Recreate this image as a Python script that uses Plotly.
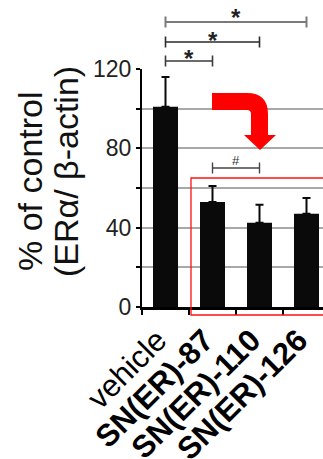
import plotly.graph_objects as go

# ---- data ----
categories = ["vehicle", "SN(ER)-87", "SN(ER)-110", "SN(ER)-126"]
tick_labels = ["vehicle", "<b>SN(ER)-87</b>", "<b>SN(ER)-110</b>", "<b>SN(ER)-126</b>"]
values = [101, 53, 42.5, 47]
errors = [15, 8, 9, 8]
y_tickvals = [0, 20, 40, 60, 80, 100, 120]
y_ticktext = ["0", "", "40", "", "80", "", "120"]
sig_pairs = [("vehicle", "SN(ER)-126", "*"), ("vehicle", "SN(ER)-110", "*"),
             ("vehicle", "SN(ER)-87", "*"), ("SN(ER)-87", "SN(ER)-110", "#")]

# ---- layout geometry (pixels) ----
W, H = 323, 459
ML, MR, MT, MB = 142, 0, 69, 152
PW, PH = W - ML - MR, H - MT - MB
CAT_PX = 47.0
FONT = "Liberation Sans, Arial, sans-serif"


def px2paper_x(px):
    return (px - ML) / PW


def py2paper_y(py):
    return (H - MB - py) / PH


fig = go.Figure()
fig.add_trace(go.Bar(
    x=categories, y=values,
    marker=dict(color="#0a0a0a", line=dict(width=0)),
    error_y=dict(type="data", array=errors, arrayminus=[0] * len(errors),
                 symmetric=False, color="#0a0a0a", thickness=2, width=4),
    showlegend=False,
))

shapes = []
annotations = []

# significance brackets
bracket_style = {
    ("vehicle", "SN(ER)-126"): (22, "#7a7a7a", 2.0, 11),
    ("vehicle", "SN(ER)-110"): (42, "#2a2a2a", 1.6, 34),
    ("vehicle", "SN(ER)-87"): (61, "#3a3a3a", 1.6, 53),
    ("SN(ER)-87", "SN(ER)-110"): (168, "#444444", 1.4, 160),
}
for a, b, sym in sig_pairs:
    ypx, col, lw, spx = bracket_style[(a, b)]
    i, j = categories.index(a), categories.index(b)
    y = py2paper_y(ypx)
    dy = 5.5 / PH
    shapes.append(dict(type="line", xref="x", yref="paper", x0=i, x1=j, y0=y, y1=y,
                       line=dict(color=col, width=lw)))
    for k in (i, j):
        shapes.append(dict(type="line", xref="x", yref="paper", x0=k, x1=k,
                           y0=y - dy, y1=y + dy, line=dict(color=col, width=lw)))
    if sym == "*":
        annotations.append(dict(xref="x", yref="paper", x=(i + j) / 2, y=py2paper_y(spx + 6),
                                text="<b>*</b>", showarrow=False, xanchor="center", yanchor="middle",
                                font=dict(family=FONT, size=24, color="#222")))
    else:
        annotations.append(dict(xref="x", yref="paper", x=(i + j) / 2, y=py2paper_y(spx),
                                text="#", showarrow=False, xanchor="center", yanchor="middle",
                                font=dict(family=FONT, size=13, color="#333")))

# red curved arrow
def P(x, y):
    return f"{px2paper_x(x):.4f},{py2paper_y(y):.4f}"
arrow_path = (
    f"M {P(212,93)} L {P(247,93)} Q {P(268,93)} {P(268,114)} L {P(268,135)} "
    f"L {P(276,135)} L {P(260,150)} L {P(244,135)} L {P(251,135)} L {P(251,114)} "
    f"Q {P(251,110)} {P(247,110)} L {P(212,110)} Z"
)
shapes.append(dict(type="path", xref="paper", yref="paper", path=arrow_path,
                   fillcolor="#ff0000", line=dict(width=0)))

# red box
shapes.append(dict(type="rect", xref="paper", yref="paper",
                   x0=px2paper_x(191), x1=px2paper_x(324), y0=py2paper_y(315), y1=py2paper_y(178),
                   line=dict(color="#ff1010", width=1.3), fillcolor="rgba(0,0,0,0)"))

# y axis title (two lines)
annotations.append(dict(xref="paper", yref="paper", x=px2paper_x(30), y=py2paper_y(181),
                        text="% of control", textangle=-90, showarrow=False,
                        xanchor="center", yanchor="middle",
                        font=dict(family=FONT, size=34, color="#111")))
annotations.append(dict(xref="paper", yref="paper", x=px2paper_x(66), y=py2paper_y(172),
                        text="(ERα/ β-actin)", textangle=-90, showarrow=False,
                        xanchor="center", yanchor="middle",
                        font=dict(family=FONT, size=34, color="#111")))

fig.update_layout(
    width=W, height=H,
    margin=dict(l=ML, r=MR, t=MT, b=MB, pad=0, autoexpand=False),
    paper_bgcolor="white", plot_bgcolor="white",
    bargap=1 - 25 / CAT_PX,
    shapes=shapes, annotations=annotations,
    font=dict(family=FONT),
)
fig.update_xaxes(
    type="category", range=[-0.5, -0.5 + PW / CAT_PX], automargin=False,
    tickmode="array", tickvals=categories, ticktext=tick_labels,
    tickson="boundaries", ticks="outside", ticklen=5, tickwidth=2, tickcolor="black",
    tickangle=-45, tickfont=dict(family=FONT, size=31, color="black"),
    ticklabelshift=-8,
    showline=True, linecolor="black", linewidth=2.5, showgrid=False, zeroline=False,
)
fig.update_yaxes(
    range=[0, 120], tickmode="array", tickvals=y_tickvals, ticktext=y_ticktext, automargin=False,
    ticks="outside", ticklen=4, tickwidth=2, tickcolor="black",
    tickfont=dict(family=FONT, size=23, color="#222"),
    showline=True, linecolor="black", linewidth=2, zeroline=False,
    showgrid=True, gridcolor="#a8a8a8", gridwidth=1.8,
)

fig.write_html("out.html", config={"displayModeBar": False},
               post_script="document.body.style.margin='0';document.body.style.padding='0';")
